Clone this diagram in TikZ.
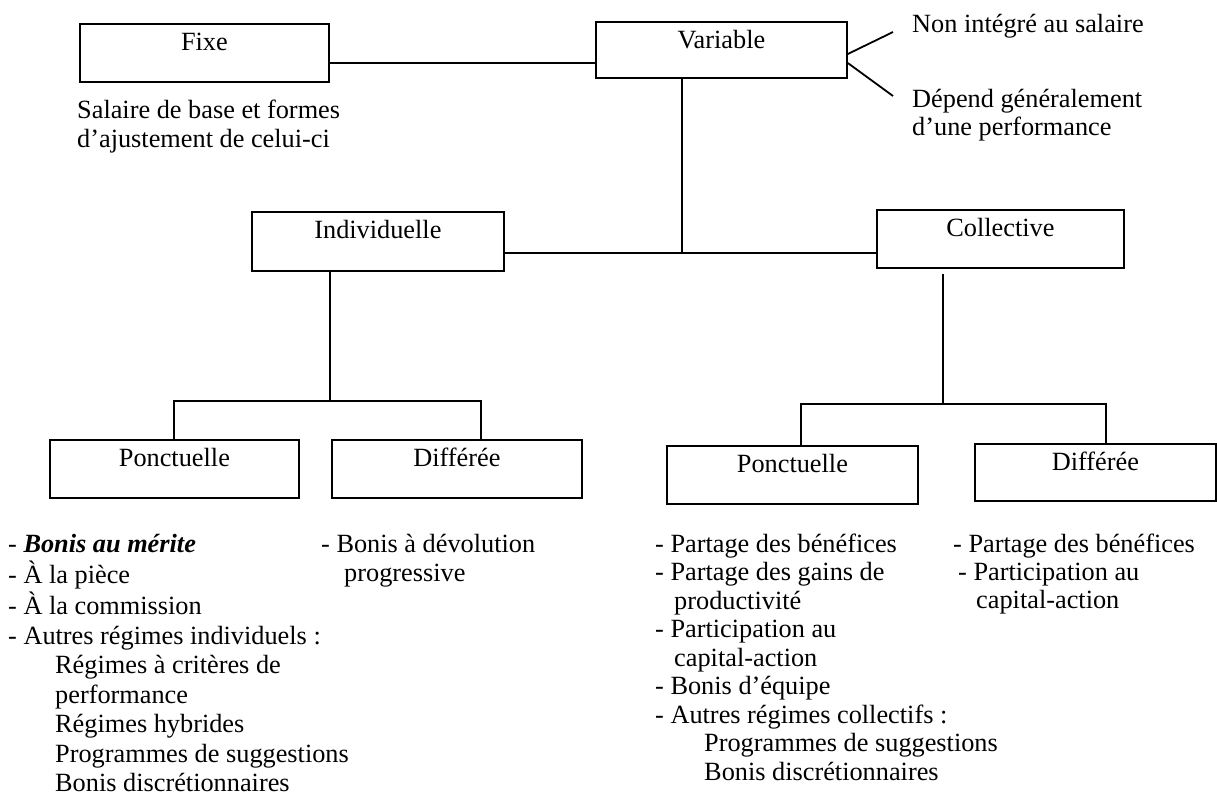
\documentclass[tikz,border=0pt]{standalone}
\usepackage{fontspec}
\setmainfont{Liberation Serif}
\usetikzlibrary{calc}
\newcommand\dfont{\fontsize{26.3}{29.5}\selectfont}
\newcommand\dfontb{\fontsize{26.3}{28.5}\selectfont}
\newcommand\dfontc{\fontsize{26.3}{28}\selectfont}
\begin{document}
\begin{tikzpicture}[x=1pt,y=-1pt,
  box/.style={draw, line width=1.8pt, inner sep=0pt, anchor=north west,
    minimum height=58pt, text height=27pt, text depth=31pt, font=\dfont},
  conn/.style={line width=1.8pt},
  txt/.style={anchor=base west, inner sep=0pt, font=\dfont}]
\useasboundingbox[fill=white] (0,0) rectangle (1217,801);

% boxes
\node[box, minimum width=249pt] (fixe) at (79,23) {Fixe};
\node[box, minimum width=251pt, minimum height=56pt, text depth=29pt] (variable) at (595,21) {Variable};
\node[box, minimum width=252pt, minimum height=59pt, text depth=32pt] (indiv) at (251,211) {Individuelle};
\node[box, minimum width=247pt] (collective) at (876,209) {Collective};
\node[box, minimum width=249pt] (ponctL) at (49,439) {Ponctuelle};
\node[box, minimum width=250pt] (diffL) at (331,439) {Différée};
\node[box, minimum width=251pt] (ponctR) at (666,445) {Ponctuelle};
\node[box, minimum width=241pt, minimum height=57pt, text depth=30pt] (diffR) at (974,443) {Différée};

% free ends and junctions
\coordinate (v1) at (893,32);
\coordinate (v2) at (893,96);
\coordinate (j1) at (682,253);
\coordinate (f1) at (330,401);
\coordinate (fl) at (174,401);
\coordinate (fr) at (481,401);
\coordinate (c1) at (943,404);
\coordinate (gl) at (801,404);
\coordinate (gr) at (1106,404);

% connectors
\draw[conn] (fixe.east |- 0,63) -- (variable.west |- 0,63);
\draw[conn] (variable.east |- 0,54) -- (v1);
\draw[conn] (variable.east |- 0,63) -- (v2);
\draw[conn] (variable.south -| j1) -- (j1);
\draw[conn] (indiv.east |- j1) -- (collective.west |- j1);
\draw[conn] (indiv.south -| f1) -- (f1);
\draw[conn] (ponctL.north -| fl) -- (fl) -- (fr) -- (diffL.north -| fr);
\draw[conn] ([yshift=-5pt]collective.south -| c1) -- (c1);
\draw[conn] (ponctR.north -| gl) -- (gl) -- (gr) -- (diffR.north -| gr);

% texts
\node[txt] (vt1) at (912,32) {Non intégré au salaire};
\node[txt] (vt2) at (912,107) {\begin{tabular}[t]{@{}l@{}}Dépend généralement\\[-1.5pt] d’une performance\end{tabular}};
\node[txt] (ft) at (77,118) {\begin{tabular}[t]{@{}l@{}}Salaire de base et formes\\ d’ajustement de celui-ci\end{tabular}};

\node[txt] (l1) at (8,552) {\begin{tabular}[t]{@{}l@{}}
- \textbf{\textit{Bonis au mérite}}\\
- À la pièce\\
- À la commission\\
- Autres régimes individuels :\\
\hspace*{47pt}Régimes à critères de\\
\hspace*{47pt}performance\\
\hspace*{47pt}Régimes hybrides\\
\hspace*{47pt}Programmes de suggestions\\
\hspace*{47pt}Bonis discrétionnaires
\end{tabular}};

\node[txt] (l2) at (321,552) {\begin{tabular}[t]{@{}l@{}}
- Bonis à dévolution\\
\hspace*{23pt}progressive
\end{tabular}};

\node[txt, font=\dfontb] (l3) at (655,552) {\begin{tabular}[t]{@{}l@{}}
- Partage des bénéfices\\
- Partage des gains de\\
\hspace*{19pt}productivité\\
- Participation au\\
\hspace*{19pt}capital-action\\
- Bonis d’équipe\\
- Autres régimes collectifs :\\
\hspace*{49pt}Programmes de suggestions\\
\hspace*{49pt}Bonis discrétionnaires
\end{tabular}};

\node[txt, font=\dfontc] (l4) at (953,552) {\begin{tabular}[t]{@{}l@{}}
- Partage des bénéfices\\
\hspace*{5pt}- Participation au\\
\hspace*{23pt}capital-action
\end{tabular}};
\end{tikzpicture}
\end{document}
